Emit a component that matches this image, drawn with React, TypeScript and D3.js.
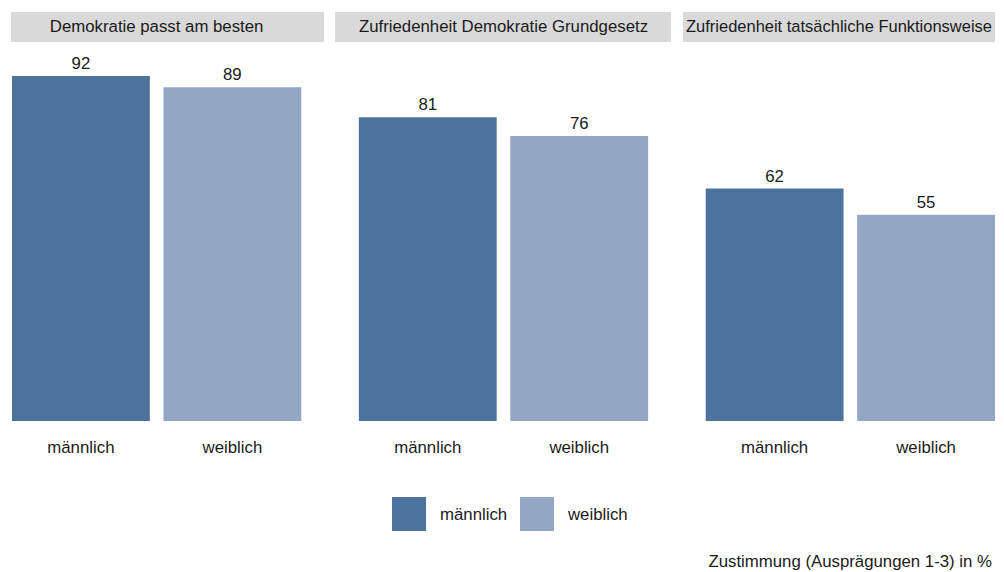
import { useLayoutEffect, useRef, useState } from "react";
import * as d3 from "d3";

const FACETS = [
  "Demokratie passt am besten",
  "Zufriedenheit Demokratie Grundgesetz",
  "Zufriedenheit tatsächliche Funktionsweise",
];
const GENDERS = ["männlich", "weiblich"];
const MALE_VALUES = [92, 81, 62];
const FEMALE_VALUES = [89, 76, 55];
const CAPTION = "Zustimmung (Ausprägungen 1-3) in %";

const COLORS: Record<string, string> = {
  männlich: "#4d729e",
  weiblich: "#93a7c5",
};

// strip extents (left, right) per facet, as measured on the original
const STRIP_EXTENTS = [
  [11, 324],
  [335, 671],
  [683, 995],
];

const W = 1004;
const H = 572;
const FONT = "'Liberation Sans', Arial, sans-serif";
const FS = 16.8;
const TEXT = "#1a1a1a";

export default function App() {
  const labelRefs = useRef<(SVGTextElement | null)[]>([]);
  const [labelWidths, setLabelWidths] = useState<number[]>(FACETS.map(() => 0));

  useLayoutEffect(() => {
    setLabelWidths(labelRefs.current.map((el) => (el ? el.getComputedTextLength() : 0)));
  }, []);

  const rows = FACETS.flatMap((f, i) => [
    { facet: f, gender: GENDERS[0], value: MALE_VALUES[i] },
    { facet: f, gender: GENDERS[1], value: FEMALE_VALUES[i] },
  ]);

  const facetX = d3.scaleBand<string>().domain(FACETS).range([12, 995]).paddingInner(0.166);
  const barX = d3
    .scaleBand<string>()
    .domain(GENDERS)
    .range([0, facetX.bandwidth()])
    .paddingInner(0.09);
  const y = d3.scaleLinear().domain([0, 100]).range([421, 46]);

  return (
    <svg
      width={W}
      height={H}
      style={{ position: "absolute", left: 0, top: 0, background: "#fff" }}
      fontFamily={FONT}
    >
      {/* facet strips: label centred on the panel, pushed inside the strip if needed */}
      {FACETS.map((f, i) => {
        const [x0, x1] = STRIP_EXTENTS[i];
        const room = x1 - x0 - 6;
        const measured = labelWidths[i];
        const fitted = Math.min(measured, room);
        const half = fitted / 2;
        const centre = (facetX(f) ?? 0) + facetX.bandwidth() / 2;
        const cx = Math.max(x0 + half + 3, Math.min(x1 - half - 3, centre));
        const squeeze = measured > room;
        return (
          <g key={f}>
            <rect x={x0} y={12} width={x1 - x0} height={30} fill="#d9d9d9" />
            <text
              ref={(el) => {
                labelRefs.current[i] = el;
              }}
              x={cx}
              y={32}
              textAnchor="middle"
              fontSize={FS}
              fill={TEXT}
              {...(squeeze ? { textLength: room, lengthAdjust: "spacingAndGlyphs" } : {})}
            >
              {f}
            </text>
          </g>
        );
      })}

      {/* bars */}
      {rows.map((d) => {
        const x = (facetX(d.facet) ?? 0) + (barX(d.gender) ?? 0);
        const bw = barX.bandwidth();
        return (
          <g key={d.facet + d.gender}>
            <rect
              x={x}
              y={y(d.value)}
              width={bw}
              height={y(0) - y(d.value)}
              fill={COLORS[d.gender]}
            />
            <text x={x + bw / 2} y={y(d.value) - 7} textAnchor="middle" fontSize={FS} fill={TEXT}>
              {d.value}
            </text>
            <text x={x + bw / 2} y={453} textAnchor="middle" fontSize={FS} fill={TEXT}>
              {d.gender}
            </text>
          </g>
        );
      })}

      {/* legend */}
      {GENDERS.map((g, i) => {
        const lx = 392 + i * 128;
        return (
          <g key={g}>
            <rect x={lx} y={497} width={34} height={34} fill={COLORS[g]} />
            <text x={lx + 48} y={520} fontSize={FS} fill={TEXT}>
              {g}
            </text>
          </g>
        );
      })}

      <text x={992} y={567} textAnchor="end" fontSize={FS} fill={TEXT}>
        {CAPTION}
      </text>
    </svg>
  );
}
